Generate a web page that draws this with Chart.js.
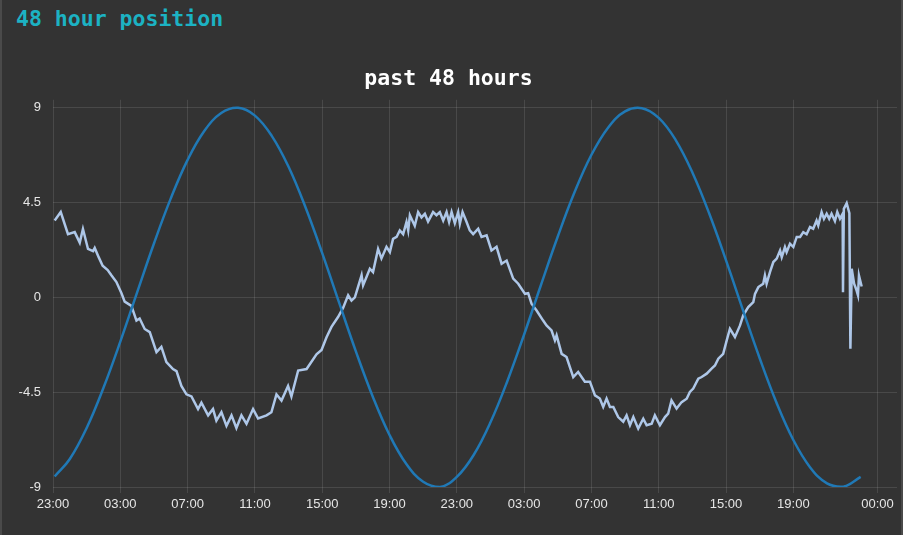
<!DOCTYPE html>
<html>
<head>
<meta charset="utf-8">
<script src="https://cdn.jsdelivr.net/npm/chart.js"></script>
<style>
  html, body { margin: 0; padding: 0; background: #333333; }
  #card { position: absolute; left: 0; top: 0; width: 903px; height: 535px; box-sizing: border-box;
          border-left: 2px solid #4a4a4a; border-right: 2px solid #4a4a4a; background: #333333; }
  #card-title { position: absolute; left: 14px; top: 6px; font: bold 21.5px "DejaVu Sans Mono", monospace;
                color: #1cb2c3; white-space: nowrap; }
  #wrap { position: absolute; left: 0; top: 0; width: 903px; height: 535px; }
</style>
</head>
<body>
<div id="card">
  <div id="card-title">48 hour position</div>
</div>
<div id="wrap"><canvas id="chart"></canvas></div>
<script>
// hours since 23:00 on the first day
const tickHours = [0, 4, 8, 12, 16, 20, 24, 28, 32, 36, 40, 44, 49];
const tickLabels = ['23:00', '03:00', '07:00', '11:00', '15:00', '19:00', '23:00', '03:00', '07:00', '11:00', '15:00', '19:00', '00:00'];
const yTicks = [-9, -4.5, 0, 4.5, 9];

const darkHours = [0.1, 1, 2, 3, 4, 5, 6, 7, 8, 9, 10, 11, 12, 13, 14, 15, 16, 17, 18, 19, 20, 21, 22, 23, 24,
  25, 26, 27, 28, 29, 30, 31, 32, 33, 34, 35, 36, 37, 38, 39, 40, 41, 42, 43, 44, 45, 46, 47, 48];
const darkValues = [-8.5, -7.67, -6.2, -4.29, -2.1, 0.24, 2.56, 4.7, 6.53, 7.91, 8.75, 9.0, 8.63, 7.67, 6.2, 4.29,
  2.1, -0.24, -2.56, -4.7, -6.53, -7.91, -8.75, -9.0, -8.52, -7.48, -5.93, -3.98, -1.76, 0.59, 2.89, 5.0, 6.77,
  8.07, 8.83, 8.98, 8.52, 7.48, 5.93, 3.98, 1.76, -0.59, -2.89, -5.0, -6.77, -8.07, -8.83, -8.98, -8.52];

const lightHours = [0.10, 0.46, 0.89, 1.29, 1.59, 1.78, 2.08, 2.38, 2.48, 2.72, 2.95, 3.25, 3.47, 3.77, 4.07, 4.26,
  4.66, 4.96, 5.15, 5.45, 5.75, 6.15, 6.44, 6.74, 7.13, 7.34, 7.63, 7.93, 8.23, 8.62, 8.82, 9.22, 9.51, 9.71, 10.01,
  10.31, 10.61, 10.90, 11.20, 11.50, 11.89, 12.19, 12.69, 12.98, 13.28, 13.58, 13.97, 14.17, 14.57, 15.07, 15.66,
  15.96, 16.25, 16.55, 16.94, 17.24, 17.54, 17.74, 17.94, 18.34, 18.43, 18.83, 19.02, 19.32, 19.52, 19.82, 20.02,
  20.21, 20.42, 20.61, 20.81, 21.01, 21.11, 21.21, 21.50, 21.70, 21.90, 22.10, 22.29, 22.59, 22.79, 22.99, 23.19,
  23.39, 23.54, 23.69, 23.88, 24.08, 24.18, 24.34, 24.58, 24.77, 24.97, 25.27, 25.47, 25.77, 26.06, 26.36, 26.66,
  26.96, 27.35, 27.65, 28.05, 28.24, 28.44, 28.74, 29.13, 29.33, 29.63, 29.83, 29.93, 30.23, 30.52, 30.92, 31.21,
  31.61, 31.91, 32.21, 32.50, 32.70, 32.90, 33.10, 33.30, 33.59, 33.89, 34.09, 34.29, 34.49, 34.78, 35.08, 35.28,
  35.58, 35.77, 36.07, 36.37, 36.56, 36.76, 37.06, 37.36, 37.66, 37.85, 38.05, 38.35, 38.55, 38.85, 39.14, 39.34,
  39.54, 39.83, 40.04, 40.23, 40.53, 40.83, 41.02, 41.32, 41.62, 41.72, 41.92, 42.21, 42.31, 42.41, 42.61, 42.81,
  43.01, 43.21, 43.31, 43.50, 43.60, 43.80, 44.00, 44.20, 44.40, 44.59, 44.79, 44.99, 45.18, 45.38, 45.48, 45.68,
  45.82, 45.98, 46.13, 46.27, 46.47, 46.61, 46.77, 46.93, 46.95, 47.00, 47.17, 47.33, 47.39, 47.47, 47.61, 47.73,
  47.84, 47.90, 48.06];
const lightValues = [3.65, 4.05, 3.0, 3.1, 2.6, 3.25, 2.3, 2.2, 2.35, 1.9, 1.5, 1.3, 1.05, 0.73, 0.2, -0.2,
  -0.4, -1.1, -1.0, -1.5, -1.65, -2.6, -2.35, -3.07, -3.4, -3.5, -4.2, -4.6, -4.7, -5.3, -5.0, -5.6, -5.3, -5.85, -5.45,
  -6.1, -5.6, -6.2, -5.6, -6.0, -5.3, -5.75, -5.6, -5.45, -4.6, -4.9, -4.2, -4.7, -3.47, -3.4, -2.7,
  -2.5, -1.9, -1.4, -0.93, -0.5, 0.1, -0.15, 0.0, 1.05, 0.57, 1.36, 1.2, 2.3, 1.85, 2.4, 2.15,
  2.78, 2.87, 3.18, 3.0, 3.58, 3.18, 3.9, 3.4, 4.05, 3.8, 3.97, 3.6, 4.05, 3.9, 4.05, 3.65,
  4.05, 3.58, 4.05, 3.53, 4.05, 3.5, 4.05, 3.58, 3.18, 3.0, 3.26, 2.87, 2.95, 2.23, 2.4, 1.6,
  1.75, 0.89, 0.65, 0.17, 0.2, -0.3, -0.62, -1.1, -1.33, -1.57, -2.04, -1.8, -2.68, -2.83, -3.78, -3.54,
  -4.0, -4.0, -4.65, -4.8, -5.2, -4.8, -5.2, -5.2, -5.68, -5.9, -5.6, -6.07, -5.68, -6.23, -5.76, -6.07,
  -6.0, -5.6, -6.07, -5.68, -5.52, -4.89, -5.28, -4.97, -4.81, -4.49, -4.33, -3.86, -3.78, -3.62, -3.38, -3.23,
  -2.91, -2.68, -2.04, -1.49, -1.88, -1.33, -0.85, -0.46, -0.22, 0.17, 0.49, 0.65, 1.04, 0.65, 1.2, 1.68,
  1.84, 2.23, 1.91, 2.39, 2.15, 2.55, 2.39, 2.87, 2.87, 3.1, 3.0, 3.34, 3.26, 3.65, 3.42, 4.05,
  3.73, 3.97, 3.73, 3.97, 3.62, 4.05, 3.73, 3.97, 0.25, 4.2, 4.47, 4.0, -2.44, 1.36, 0.65, 0.4,
  0.1, 1.04, 0.52];

const tickFont = { family: '"Liberation Sans", Arial, sans-serif', size: 13 };
const gridColor = 'rgba(255,255,255,0.11)';

new Chart(document.getElementById('chart'), {
  type: 'line',
  data: {
    datasets: [
      { data: darkHours.map((h, i) => ({ x: h, y: darkValues[i] })), borderColor: '#2079b6', borderWidth: 2.5,
        pointRadius: 0, tension: 0.4, fill: false },
      { data: lightHours.map((h, i) => ({ x: h, y: lightValues[i] })), borderColor: '#aec7e8', borderWidth: 2.5,
        pointRadius: 0, tension: 0, fill: false }
    ]
  },
  options: {
    responsive: true,
    maintainAspectRatio: false,
    animation: false,
    layout: { padding: { left: 0, right: 6, top: 0, bottom: 0 } },
    plugins: {
      legend: { display: false },
      tooltip: { enabled: false },
      title: {
        display: true, text: 'past 48 hours', color: '#ffffff',
        font: { family: '"DejaVu Sans Mono", monospace', size: 21.5, weight: 'bold', lineHeight: 1.2 },
        padding: { top: 67, bottom: 7 }
      }
    },
    scales: {
      x: {
        type: 'linear', min: 0, max: 50.16,
        afterBuildTicks: s => { s.ticks = tickHours.map(v => ({ value: v })); },
        afterFit: s => { s.height = 48; },
        ticks: { color: '#e6e6e6', font: tickFont, autoSkip: false, maxRotation: 0, padding: 4,
                 callback: (v, i) => tickLabels[i] },
        grid: { color: gridColor, tickColor: gridColor, tickLength: 6 },
        border: { display: false }
      },
      y: {
        min: -9, max: 9.38,
        afterBuildTicks: s => { s.ticks = yTicks.map(v => ({ value: v })); },
        afterFit: s => { s.width = 53; },
        ticks: { color: '#e6e6e6', font: tickFont, padding: 12, callback: v => String(v) },
        grid: { color: gridColor, drawTicks: false },
        border: { display: false }
      }
    }
  }
});
</script>
</body>
</html>
